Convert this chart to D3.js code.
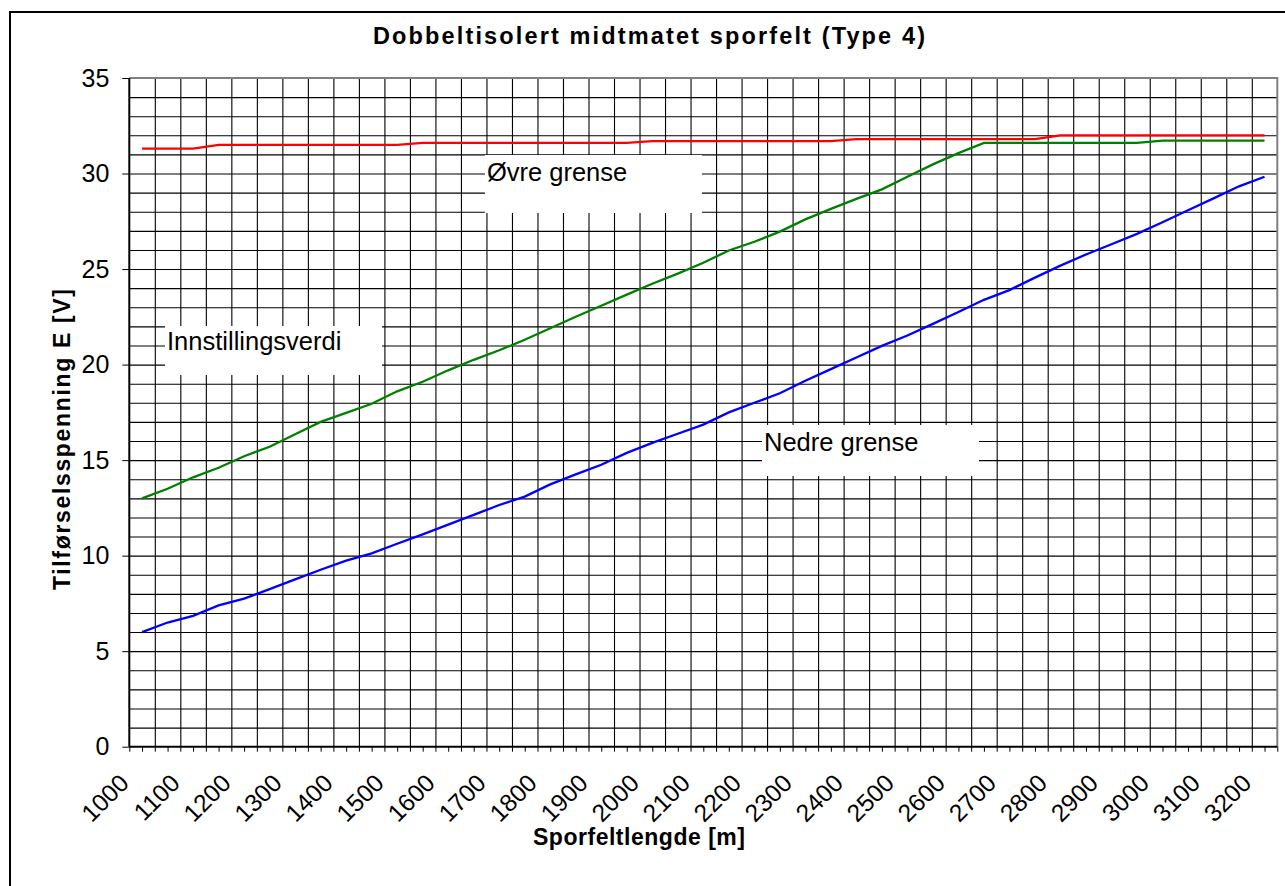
<!DOCTYPE html>
<html>
<head>
<meta charset="utf-8">
<script src="https://cdnjs.cloudflare.com/ajax/libs/d3/7.8.5/d3.min.js"></script>
<style>
    body { margin: 0; background: #fff; }
    #chart { width: 1285px; height: 886px; }
    text { font-family: "Liberation Sans", Arial, sans-serif; }
</style>
</head>
<body>
<div id="chart"></div>
<script>
//VARIABLES
let lengths = [1025, 1075, 1125, 1175, 1225, 1275, 1325, 1375, 1425, 1475,
    1525, 1575, 1625, 1675, 1725, 1775, 1825, 1875, 1925, 1975,
    2025, 2075, 2125, 2175, 2225, 2275, 2325, 2375, 2425, 2475,
    2525, 2575, 2625, 2675, 2725, 2775, 2825, 2875, 2925, 2975,
    3025, 3075, 3125, 3175, 3225];
let upperLimit = [31.3, 31.3, 31.3, 31.5, 31.5, 31.5, 31.5, 31.5, 31.5, 31.5,
    31.5, 31.6, 31.6, 31.6, 31.6, 31.6, 31.6, 31.6, 31.6, 31.6,
    31.7, 31.7, 31.7, 31.7, 31.7, 31.7, 31.7, 31.7, 31.8, 31.8,
    31.8, 31.8, 31.8, 31.8, 31.8, 31.8, 32.0, 32.0, 32.0, 32.0,
    32.0, 32.0, 32.0, 32.0, 32.0];
let setting = [13.0, 13.5, 14.1, 14.6, 15.2, 15.7, 16.35, 17.0, 17.47, 17.95,
    18.6, 19.1, 19.7, 20.25, 20.75, 21.3, 21.9, 22.5, 23.08, 23.66,
    24.23, 24.76, 25.33, 25.97, 26.43, 26.96, 27.6, 28.15, 28.67, 29.17,
    29.83, 30.48, 31.07, 31.6, 31.6, 31.6, 31.6, 31.6, 31.6, 31.6,
    31.72, 31.72, 31.72, 31.72, 31.72];
let lowerLimit = [6.0, 6.5, 6.85, 7.4, 7.75, 8.25, 8.76, 9.26, 9.74, 10.12,
    10.62, 11.11, 11.62, 12.13, 12.65, 13.09, 13.73, 14.25, 14.76, 15.38,
    15.9, 16.38, 16.86, 17.5, 18.0, 18.5, 19.15, 19.76, 20.37, 20.98,
    21.52, 22.13, 22.75, 23.39, 23.9, 24.55, 25.18, 25.76, 26.3, 26.84,
    27.45, 28.08, 28.7, 29.33, 29.83];
let xTickLabels = [1000, 1100, 1200, 1300, 1400, 1500, 1600, 1700, 1800, 1900, 2000,
    2100, 2200, 2300, 2400, 2500, 2600, 2700, 2800, 2900, 3000, 3100, 3200];
let yTickLabels = [0, 5, 10, 15, 20, 25, 30, 35];
let seriesNames = ['Øvre grense', 'Innstillingsverdi', 'Nedre grense'];
let colors = ['#FF0000', '#008000', '#0000FF'];

//INIT
init();

//FUNCTIONS
function init() {
    let svg = d3.select('#chart')
        .append('svg')
            .attr('width', 1285)
            .attr('height', 886);

    let margin = {top: 78, right: 8, bottom: 140, left: 129.3};
    let width = 1277.3 - margin.left, height = 746.7 - margin.top;

    //Outer border
    svg.append('rect')
        .attr('x', 10).attr('y', 12)
        .attr('width', 1300).attr('height', 900)
        .attr('fill', '#fff')
        .attr('stroke', '#000')
        .attr('stroke-width', 2);

    //Title
    svg.append('text')
        .attr('x', 373).attr('y', 43.5)
        .attr('font-size', 23.5)
        .attr('font-weight', 'bold')
        .attr('textLength', 552)
        .attr('lengthAdjust', 'spacing')
        .text('Dobbeltisolert midtmatet sporfelt (Type 4)');

    let chart = svg.append('g')
        .attr('transform', 'translate(' + margin.left + ',' + margin.top + ')');

    //Scales
    let x = d3.scaleLinear().domain([1000, 3250]).range([0, width]);
    let y = d3.scaleLinear().domain([0, 35]).range([height, 0]);

    //Grid
    chart.append('g')
        .attr('class', 'grid_x')
        .attr('transform', 'translate(0,' + height + ')')
        .call(d3.axisBottom(x).tickValues(d3.range(1050, 3250, 50)).tickSize(-height).tickFormat(''))
        .call(function(g) { g.select('.domain').remove(); })
        .call(function(g) { g.selectAll('.tick line').attr('stroke', '#000').attr('stroke-width', 1.1); });

    chart.append('g')
        .attr('class', 'grid_y')
        .call(d3.axisLeft(y).tickValues(d3.range(1, 35)).tickSize(-width).tickFormat(''))
        .call(function(g) { g.select('.domain').remove(); })
        .call(function(g) { g.selectAll('.tick line').attr('stroke', '#000').attr('stroke-width', 1.1); });

    //Plot border (top / right)
    chart.append('path')
        .attr('d', 'M0,0H' + width + 'V' + height)
        .attr('fill', 'none')
        .attr('stroke', '#808080')
        .attr('stroke-width', 2);

    //Lines
    let line = d3.line()
        .x(function(d) { return x(d.len); })
        .y(function(d) { return y(d.value); });

    let series = [upperLimit, setting, lowerLimit].map(function(values, i) {
        return {
            key: seriesNames[i],
            data: values.map(function(v, j) { return {len: lengths[j], value: v}; })
        };
    });

    chart.selectAll('.line')
        .data(series)
        .enter()
        .append('path')
        .attr('class', 'line')
        .attr('fill', 'none')
        .attr('stroke', function(d, i) { return colors[i]; })
        .attr('stroke-width', 2.3)
        .attr('d', function(d) { return line(d.data); });

    //Text boxes
    let boxes = [
        {text: 'Øvre grense', len: 1697, value: 30.97, w: 217, h: 58, dy: 26},
        {text: 'Innstillingsverdi', len: 1070, value: 22.02, w: 217, h: 49, dy: 24.5},
        {text: 'Nedre grense', len: 2240, value: 16.84, w: 217, h: 51, dy: 26.5}
    ];
    let boxG = chart.selectAll('.label_box')
        .data(boxes)
        .enter()
        .append('g')
        .attr('class', 'label_box')
        .attr('transform', function(d) { return 'translate(' + x(d.len) + ',' + y(d.value) + ')'; });
    boxG.append('rect')
        .attr('width', function(d) { return d.w; })
        .attr('height', function(d) { return d.h; })
        .attr('fill', '#fff');
    boxG.append('text')
        .attr('x', 2)
        .attr('y', function(d) { return d.dy; })
        .attr('font-size', 25.5)
        .attr('fill', '#000')
        .text(function(d) { return d.text; });

    //X Axis
    chart.append('g')
        .attr('class', 'x_axis')
        .attr('transform', 'translate(0,' + height + ')')
        .call(d3.axisBottom(x).tickValues(d3.range(1000, 3251, 25)).tickSize(5).tickFormat(''))
        .call(function(g) {
            g.select('.domain').attr('stroke', '#000').attr('stroke-width', 2).attr('d', 'M0,0H' + width);
            g.selectAll('.tick line').attr('stroke', '#000');
        });

    chart.append('g')
        .attr('class', 'x_labels')
        .selectAll('text')
        .data(xTickLabels)
        .enter()
        .append('text')
        .attr('transform', function(d) { return 'translate(' + (x(d) + 1) + ',' + (height + 38) + ') rotate(-45)'; })
        .attr('text-anchor', 'end')
        .attr('font-size', 24.5)
        .text(function(d) { return d; });

    //Y Axis
    chart.append('g')
        .attr('class', 'y_axis')
        .call(d3.axisLeft(y).tickValues(yTickLabels).tickSize(7).tickPadding(13))
        .call(function(g) {
            g.select('.domain').attr('stroke', '#000').attr('stroke-width', 2).attr('d', 'M0,0V' + height);
            g.selectAll('.tick line').attr('stroke', '#000');
            g.selectAll('.tick text')
                .attr('font-size', 25)
                .attr('font-family', '"Liberation Sans", Arial, sans-serif')
                .attr('fill', '#000');
        });

    //Axis titles
    svg.append('text')
        .attr('x', 533).attr('y', 845)
        .attr('font-size', 23)
        .attr('font-weight', 'bold')
        .attr('textLength', 212)
        .attr('lengthAdjust', 'spacing')
        .text('Sporfeltlengde [m]');

    svg.append('text')
        .attr('transform', 'translate(70,590) rotate(-90)')
        .attr('font-size', 23)
        .attr('font-weight', 'bold')
        .attr('textLength', 301)
        .attr('lengthAdjust', 'spacing')
        .text('Tilførselsspenning E [V]');
}
</script>
</body>
</html>
